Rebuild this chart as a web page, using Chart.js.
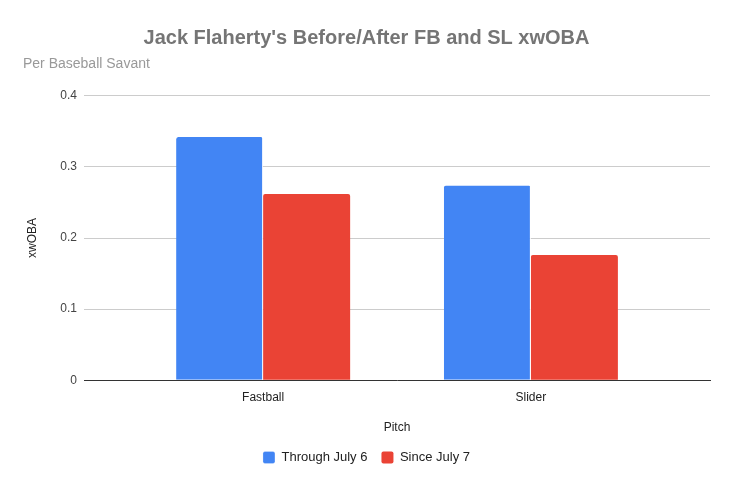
<!DOCTYPE html>
<html>
<head>
<meta charset="utf-8">
<script src="https://cdn.jsdelivr.net/npm/chart.js@4/dist/chart.umd.min.js"></script>
<style>
  html, body { margin: 0; padding: 0; background: #fff; }
  #wrap { width: 730px; height: 486px; }
</style>
</head>
<body>
<div id="wrap"><canvas id="chart"></canvas></div>
<script>
const pitches = ["Fastball", "Slider"];
const throughJuly6 = [0.342, 0.274];
const sinceJuly7 = [0.262, 0.176];
const yTicks = [0, 0.1, 0.2, 0.3, 0.4];

const font = "'Liberation Sans', Arial, sans-serif";

// bars sit on a linear x axis so the side gaps match the original
const toPoints = arr => arr.map((v, i) => ({ x: i, y: v }));

new Chart(document.getElementById("chart"), {
  type: "bar",
  data: {
    datasets: [
      {
        label: "Through July 6",
        data: toPoints(throughJuly6),
        backgroundColor: "#4285f4",
        borderColor: "#ffffff",
        borderWidth: { right: 1 },
        borderSkipped: "bottom",
        borderRadius: { topLeft: 2, topRight: 2 }
      },
      {
        label: "Since July 7",
        data: toPoints(sinceJuly7),
        backgroundColor: "#ea4335",
        borderColor: "#ffffff",
        borderWidth: { left: 0 },
        borderRadius: { topLeft: 2, topRight: 2 }
      }
    ]
  },
  options: {
    responsive: true,
    maintainAspectRatio: false,
    animation: false,
    layout: { padding: { left: 23, right: 20, bottom: 12, top: 0 } },
    datasets: {
      bar: { categoryPercentage: 0.65, barPercentage: 1 }
    },
    plugins: {
      title: {
        display: true,
        text: "Jack Flaherty's Before/After FB and SL xwOBA",
        color: "#757575",
        font: { family: font, size: 20, weight: "bold" },
        padding: { top: 26, bottom: 6 }
      },
      subtitle: {
        display: true,
        text: "Per Baseball Savant",
        align: "start",
        color: "#999999",
        font: { family: font, size: 14 },
        padding: { top: 0, bottom: 23 }
      },
      legend: {
        position: "bottom",
        labels: {
          color: "#222222",
          font: { family: font, size: 13 },
          boxWidth: 12,
          boxHeight: 12,
          useBorderRadius: true,
          borderRadius: 2,
          padding: 14
        }
      },
      tooltip: { enabled: false }
    },
    scales: {
      x: {
        type: "linear",
        offset: false,
        min: -0.669,
        max: 1.669,
        afterBuildTicks: scale => {
          scale.ticks = pitches.map((p, i) => ({ value: i }));
        },
        grid: { display: false },
        border: { color: "#333333", width: 1 },
        ticks: {
          color: "#222222",
          font: { family: font, size: 12 },
          padding: 2,
          callback: v => pitches[v]
        },
        title: {
          display: true,
          text: "Pitch",
          color: "#222222",
          font: { family: font, size: 12 },
          padding: { top: 14, bottom: 2 }
        }
      },
      y: {
        min: 0,
        max: 0.4,
        afterBuildTicks: scale => {
          scale.ticks = yTicks.map(v => ({ value: v }));
        },
        afterFit: scale => { scale.width = 61; },
        grid: { color: "#cccccc", drawTicks: false },
        border: { display: false },
        ticks: {
          color: "#444444",
          font: { family: font, size: 12 },
          padding: 7,
          callback: v => String(v)
        },
        title: {
          display: true,
          text: "xwOBA",
          color: "#222222",
          font: { family: font, size: 12 },
          padding: { top: 2, bottom: 10 }
        }
      }
    }
  }
});
</script>
</body>
</html>
